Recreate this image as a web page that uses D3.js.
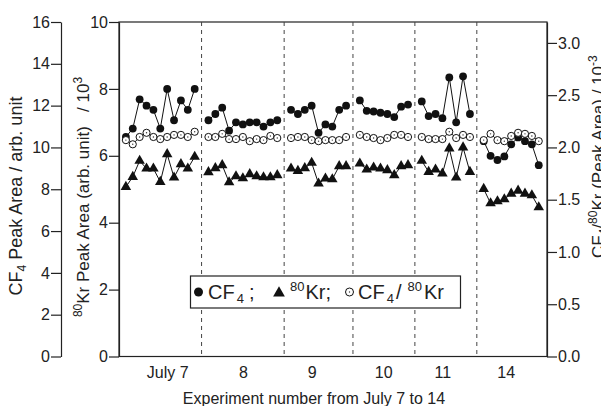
<!DOCTYPE html>
<html>
<head>
<meta charset="utf-8">
<script src="https://cdn.jsdelivr.net/npm/d3@7"></script>
<style>
  body { margin: 0; background: #fff; }
  svg { display: block; font-family: "Liberation Sans", Arial, sans-serif; }
  text { fill: #222; }
</style>
</head>
<body>
<svg width="601" height="406"></svg>
<script>
// day groups along the x axis
var days = ["July 7", "8", "9", "10", "11", "14"];
var dayTickPos = [6, 17, 27, 37.4, 46, 55.2];

// CF4 peak area (arb. unit)
var cf4 = [
  [10.5, 10.9, 12.3, 12.0, 11.8, 10.9, 12.8, 11.3, 12.25, 11.8, 12.8],
  [11.3, 11.6, 11.9, 10.8, 11.2, 11.1, 11.2, 11.2, 11.0, 11.2, 11.3],
  [11.8, 11.6, 11.8, 12.0, 10.7, 11.1, 11.0, 11.8, 12.0],
  [12.25, 11.75, 11.72, 11.66, 11.6, 11.45, 11.95, 12.05],
  [12.2, 11.5, 11.6, 11.4, 13.35, 11.2, 13.4, 11.6],
  [10.3, 9.6, 9.4, 9.57, 10.15, 10.48, 10.3, 10.15, 9.15]
];

// 80Kr peak area / 10^3
var kr = [
  [5.07, 5.37, 5.85, 5.62, 5.62, 5.22, 6.05, 5.35, 5.75, 5.62, 5.97],
  [5.51, 5.63, 5.72, 5.21, 5.39, 5.33, 5.45, 5.39, 5.36, 5.36, 5.42],
  [5.62, 5.55, 5.63, 5.79, 5.17, 5.32, 5.30, 5.69, 5.69],
  [5.77, 5.59, 5.65, 5.62, 5.57, 5.42, 5.69, 5.72],
  [5.85, 5.52, 5.59, 5.47, 6.22, 5.35, 6.25, 5.52],
  [5.01, 4.58, 4.64, 4.70, 4.87, 4.96, 4.87, 4.82, 4.46]
];

// CF4 / 80Kr ratio / 10^-3
var ratio = [
  [2.07, 2.03, 2.10, 2.14, 2.10, 2.08, 2.10, 2.12, 2.12, 2.10, 2.15],
  [2.10, 2.10, 2.13, 2.08, 2.08, 2.10, 2.06, 2.08, 2.07, 2.11, 2.09],
  [2.09, 2.10, 2.10, 2.07, 2.06, 2.07, 2.07, 2.07, 2.10],
  [2.12, 2.10, 2.09, 2.07, 2.09, 2.12, 2.12, 2.10],
  [2.10, 2.08, 2.08, 2.08, 2.15, 2.09, 2.12, 2.10],
  [2.07, 2.13, 2.07, 2.06, 2.11, 2.14, 2.13, 2.11, 2.06]
];

var cf4Ticks = d3.range(0, 17, 2);
var krTicks = d3.range(0, 11, 2);
var ratioTicks = d3.range(0, 3.01, 0.5);

var svg = d3.select("svg");
var plotL = 119, plotR = 547, plotT = 22, plotB = 356.5;

var x = d3.scaleLinear().domain([-1, 61.2]).range([plotL, plotR]);
var yCF = d3.scaleLinear().domain([0, 16]).range([plotB, plotT]);
var yKr = d3.scaleLinear().domain([0, 10]).range([plotB, plotT]);
var yR = d3.scaleLinear().domain([0, 3.2]).range([plotB, plotT]);

// experiment index: consecutive within a day, one empty slot between days
var starts = [];
var idx = 0;
days.forEach(function(d, i) {
  starts.push(idx);
  idx += cf4[i].length + 1;
});

function pts(arr, i) {
  return arr[i].map(function(v, j) { return { i: starts[i] + j, v: v }; });
}

// frame
svg.append("rect")
   .attr("x", plotL).attr("y", plotT)
   .attr("width", plotR - plotL).attr("height", plotB - plotT)
   .attr("fill", "none").attr("stroke", "#222").attr("stroke-width", 1.2);

// day separators
starts.slice(1).forEach(function(s) {
  svg.append("line")
     .attr("x1", x(s - 1)).attr("x2", x(s - 1))
     .attr("y1", plotT).attr("y2", plotB)
     .attr("stroke", "#444").attr("stroke-width", 1)
     .attr("stroke-dasharray", "4,4");
});

function styleAxis(g) {
  g.selectAll("path, line").attr("stroke", "#222").attr("stroke-width", 1.2);
  g.selectAll("text").attr("font-size", 16).attr("fill", "#222")
   .attr("font-family", "'Liberation Sans', Arial, sans-serif");
}

svg.append("g").attr("transform", "translate(61,0)")
   .call(d3.axisLeft(yCF).tickValues(cf4Ticks).tickSize(10).tickSizeOuter(0).tickPadding(1))
   .call(styleAxis);

svg.append("g").attr("transform", "translate(" + plotL + ",0)")
   .call(d3.axisLeft(yKr).tickValues(krTicks).tickSize(10).tickSizeOuter(0).tickPadding(1))
   .call(styleAxis);

svg.append("g").attr("transform", "translate(" + plotR + ",0)")
   .call(d3.axisRight(yR).tickValues(ratioTicks).tickFormat(d3.format(".1f")).tickSize(10).tickSizeOuter(0).tickPadding(1))
   .call(styleAxis);

var xAx = svg.append("g").attr("transform", "translate(0," + plotB + ")")
   .call(d3.axisBottom(x).tickValues(dayTickPos).tickFormat(function(d, i) { return days[i]; }).tickSize(0).tickPadding(10))
   .call(styleAxis);
xAx.select(".domain").remove();

// axis titles
var t1 = svg.append("text").attr("font-size", 18).attr("text-anchor", "middle")
   .attr("transform", "translate(22,196) rotate(-90)");
t1.append("tspan").text("CF");
t1.append("tspan").attr("font-size", 12).attr("dy", 4).text("4");
t1.append("tspan").attr("dy", -4).text(" Peak Area / arb. unit");

var t2 = svg.append("text").attr("font-size", 17).attr("text-anchor", "middle")
   .attr("transform", "translate(89,197) rotate(-90)").style("white-space", "pre");
t2.append("tspan").attr("font-size", 12).attr("dy", -7).text("80");
t2.append("tspan").attr("dy", 7).text("Kr Peak Area (arb. unit)   / 10");
t2.append("tspan").attr("font-size", 12).attr("dy", -7).text("3");

var t3 = svg.append("text").attr("font-size", 17).attr("text-anchor", "start")
   .attr("transform", "translate(604,258) rotate(-90)");
t3.append("tspan").text("CF");
t3.append("tspan").attr("font-size", 12).attr("dy", 4).text("4");
t3.append("tspan").attr("dy", -4).text("/");
t3.append("tspan").attr("font-size", 12).attr("dy", -7).text("80");
t3.append("tspan").attr("dy", 7).text("Kr (Peak Area) / 10");
t3.append("tspan").attr("font-size", 12).attr("dy", -7).text("-3");

svg.append("text").attr("font-size", 16).attr("text-anchor", "middle")
   .attr("x", 314).attr("y", 404).text("Experiment number from July 7 to 14");

// series
var line = function(ys) {
  return d3.line().x(function(d) { return x(d.i); }).y(function(d) { return ys(d.v); });
};
var tri = d3.symbol().type(d3.symbolTriangle).size(48);

days.forEach(function(d, i) {
  var p = pts(kr, i);
  svg.append("path").attr("d", line(yKr)(p)).attr("fill", "none").attr("stroke", "#111").attr("stroke-width", 1);
  svg.selectAll(null).data(p).enter().append("path")
     .attr("d", tri)
     .attr("transform", function(q) { return "translate(" + x(q.i) + "," + yKr(q.v) + ")"; })
     .attr("fill", "#111");
});

days.forEach(function(d, i) {
  var p = pts(cf4, i);
  svg.append("path").attr("d", line(yCF)(p)).attr("fill", "none").attr("stroke", "#111").attr("stroke-width", 1);
  svg.selectAll(null).data(p).enter().append("circle")
     .attr("cx", function(q) { return x(q.i); })
     .attr("cy", function(q) { return yCF(q.v); })
     .attr("r", 3.9).attr("fill", "#111");
});

days.forEach(function(d, i) {
  var p = pts(ratio, i);
  svg.append("path").attr("d", line(yR)(p)).attr("fill", "none").attr("stroke", "#111").attr("stroke-width", 1);
  var g = svg.selectAll(null).data(p).enter().append("g")
     .attr("transform", function(q) { return "translate(" + x(q.i) + "," + yR(q.v) + ")"; });
  g.append("circle").attr("r", 3.6).attr("fill", "#fff").attr("stroke", "#111").attr("stroke-width", 1);
  g.append("circle").attr("r", 0.7).attr("fill", "#333");
});

// legend
var lg = svg.append("g");
lg.append("rect").attr("x", 190.5).attr("y", 276).attr("width", 270).attr("height", 32)
  .attr("fill", "#fff").attr("stroke", "#222").attr("stroke-width", 1.2);
lg.append("circle").attr("cx", 198.5).attr("cy", 292).attr("r", 4.5).attr("fill", "#111");
var l1 = lg.append("text").attr("x", 208).attr("y", 299).attr("font-size", 20);
l1.append("tspan").text("CF");
l1.append("tspan").attr("font-size", 13).attr("dy", 4).attr("dx", 2).text("4");
l1.append("tspan").attr("dy", -4).attr("dx", 5).text(";");
lg.append("path").attr("d", d3.symbol().type(d3.symbolTriangle).size(60))
  .attr("transform", "translate(279,293)").attr("fill", "#111");
var l2 = lg.append("text").attr("x", 290).attr("y", 299).attr("font-size", 20);
l2.append("tspan").attr("font-size", 13).attr("dy", -8).text("80");
l2.append("tspan").attr("dy", 8).attr("dx", 1).text("Kr;");
lg.append("circle").attr("cx", 349.5).attr("cy", 292).attr("r", 4).attr("fill", "#fff").attr("stroke", "#111");
lg.append("circle").attr("cx", 349.5).attr("cy", 292).attr("r", 0.7).attr("fill", "#333");
var l3 = lg.append("text").attr("x", 358).attr("y", 299).attr("font-size", 20);
l3.append("tspan").text("CF");
l3.append("tspan").attr("font-size", 13).attr("dy", 4).attr("dx", 2).text("4");
l3.append("tspan").attr("dy", -4).attr("dx", 2).text("/");
l3.append("tspan").attr("font-size", 13).attr("dy", -8).attr("dx", 6).text("80");
l3.append("tspan").attr("dy", 8).attr("dx", 2).text("Kr");
</script>
</body>
</html>
